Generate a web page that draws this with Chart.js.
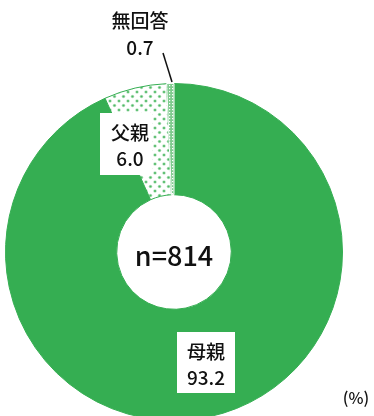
<!DOCTYPE html>
<html lang="ja">
<head>
<meta charset="utf-8">
<script src="https://cdn.jsdelivr.net/npm/chart.js@4/dist/chart.umd.min.js"></script>
<style>
  html, body { margin: 0; padding: 0; background: #fff; overflow: hidden; }
  #wrap { position: relative; width: 374px; height: 416px; overflow: hidden; }
  #chart { position: absolute; left: 0; top: 0; }
</style>
</head>
<body>
<div id="wrap"><canvas id="chart" width="374" height="424"></canvas></div>
<script>
// 回答者の内訳（%）
const categories = ['母親', '父親', '無回答'];
const values = [93.2, 6.0, 0.7];
const sampleLabel = 'n=814';
const unitLabel = '(%)';

const GREEN = '#35ae52';
const FONT = '"Noto Sans CJK JP", "Noto Sans", sans-serif';

// 父親: white ground with a diamond lattice of green dots
function dotPattern() {
  const c = document.createElement('canvas');
  c.width = 9; c.height = 9;
  const g = c.getContext('2d');
  g.fillStyle = '#ffffff';
  g.fillRect(0, 0, 9, 9);
  [[2, 2], [6.5, 6.5]].forEach(([x, y]) => {
    g.fillStyle = '#b9e3c2';
    g.beginPath(); g.arc(x, y, 1.8, 0, Math.PI * 2); g.fill();
    g.fillStyle = '#4fb965';
    g.beginPath(); g.arc(x, y, 1.1, 0, Math.PI * 2); g.fill();
  });
  return g.createPattern(c, 'repeat');
}

// 無回答: fine green/white dots
function finePattern() {
  const c = document.createElement('canvas');
  c.width = 3; c.height = 3;
  const g = c.getContext('2d');
  g.fillStyle = '#7fcb8e';
  g.fillRect(0, 0, 3, 3);
  g.fillStyle = '#ffffff';
  g.fillRect(1, 1, 1.2, 1.2);
  return g.createPattern(c, 'repeat');
}

// label placement: box [x, y, w, h] or null, text centre x, name y, value y
const labelSpots = [
  { box: [177, 332, 58, 61], x: 206, y1: 352, y2: 378 },
  { box: [100, 113, 52, 62], x: 130, y1: 133, y2: 159 },
  { box: null, x: 140, y1: 21, y2: 48, leader: [[163, 53], [172, 82]] }
];

const labelsPlugin = {
  id: 'sliceLabels',
  afterDatasetsDraw(chart) {
    const ctx = chart.ctx;
    const arc = chart.getDatasetMeta(0).data[0];
    ctx.save();
    ctx.fillStyle = '#111';
    ctx.textAlign = 'center';
    ctx.textBaseline = 'middle';
    ctx.font = '500 27px ' + FONT;
    ctx.fillText(sampleLabel, arc.x, arc.y + 4);

    labelSpots.forEach((s, i) => {
      if (s.box) {
        ctx.fillStyle = '#fff';
        ctx.fillRect(s.box[0], s.box[1], s.box[2], s.box[3]);
      }
      if (s.leader) {
        ctx.strokeStyle = '#111';
        ctx.lineWidth = 1.5;
        ctx.beginPath();
        ctx.moveTo(s.leader[0][0], s.leader[0][1]);
        ctx.lineTo(s.leader[1][0], s.leader[1][1]);
        ctx.stroke();
      }
      ctx.fillStyle = '#111';
      ctx.font = '500 19px ' + FONT;
      ctx.fillText(categories[i], s.x, s.y1);
      ctx.fillText(values[i].toFixed(1), s.x, s.y2);
    });

    ctx.font = '500 16px ' + FONT;
    ctx.fillText(unitLabel, 356, 398);
    ctx.restore();
  }
};

new Chart(document.getElementById('chart'), {
  type: 'doughnut',
  data: {
    labels: categories,
    datasets: [{
      data: values,
      backgroundColor: [GREEN, dotPattern(), finePattern()],
      borderColor: [GREEN, GREEN, '#ffffff'],
      borderWidth: 1
    }]
  },
  options: {
    responsive: false,
    animation: false,
    cutout: '34%',
    rotation: 0,
    layout: { padding: { left: 5, right: 31, top: 83, bottom: 3 } },
    plugins: {
      legend: { display: false },
      tooltip: { enabled: false },
      title: { display: false }
    }
  },
  plugins: [labelsPlugin]
});
</script>
</body>
</html>
